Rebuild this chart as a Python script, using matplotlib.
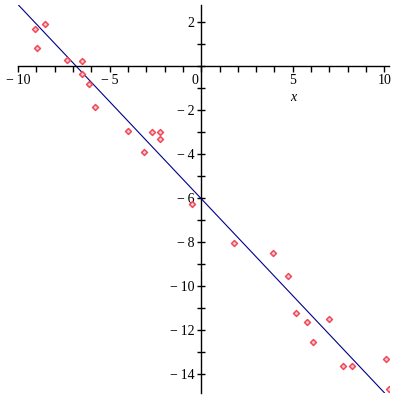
import numpy as np
import matplotlib
matplotlib.use("Agg")
import matplotlib.pyplot as plt
from matplotlib.transforms import ScaledTranslation

# data points
x_pts = [-9.05, -8.50, -8.94, -7.30, -6.49, -6.49, -6.10, -5.78, -3.98, -3.11,
         -2.67, -2.23, -2.23, -0.49, 1.80, 3.92, 4.74, 5.18, 5.78, 6.98,
         6.10, 7.74, 8.23, 10.08, 10.25]
y_pts = [1.68, 1.91, 0.82, 0.27, 0.23, -0.36, -0.82, -1.86, -2.95, -3.91,
         -3.00, -3.00, -3.32, -6.27, -8.05, -8.50, -9.55, -11.23, -11.64, -11.50,
         -12.55, -13.64, -13.64, -13.32, -14.68]

# fitted line y = intercept + slope * x
fit_coef = [-0.882, -6.03]
line_x = [-10, 10]

x_ticks = [-10, -5, 0, 5, 10]
y_ticks = [2, -2, -4, -6, -8, -10, -12, -14]


def fmt(v):
    if v < 0:
        return "\u2212\u2009" + str(abs(v))
    return str(v)


plt.rcParams["font.family"] = ["Liberation Serif", "DejaVu Serif"]

fig = plt.figure(figsize=(4, 4), dpi=100)
ax = fig.add_axes([18 / 400, 1 - 393 / 400, (389 - 18) / 400, (393 - 5) / 400])
ax.set_xlim(-10, 10.25)
ax.set_ylim(-14.86, 2.77)

lx = np.array(line_x, dtype=float)
ax.plot(lx, np.polyval(fit_coef, lx), color="#00008b", lw=0.8, zorder=2)
ax.scatter(x_pts, y_pts, marker="D", s=9, facecolor="#ffc8cf",
           edgecolor="#f04a5a", linewidths=1.1, zorder=3)

for side in ["top", "right"]:
    ax.spines[side].set_visible(False)
ax.spines["left"].set_position(("data", 0))
ax.spines["bottom"].set_position(("data", 0))
ax.spines["left"].set_linewidth(1.0)
ax.spines["bottom"].set_linewidth(1.0)

ax.set_xticks(x_ticks)
ax.set_xticklabels([fmt(v) for v in x_ticks])
ax.set_xticks(range(-10, 11), minor=True)
ax.set_yticks(y_ticks)
ax.set_yticklabels([fmt(v) for v in y_ticks])
ax.set_yticks(range(-14, 3), minor=True)

ax.tick_params(axis="x", which="both", direction="out", length=4, width=1,
               labelsize=10, pad=2)
ax.tick_params(axis="y", which="both", direction="inout", length=6, width=1,
               labelsize=10, pad=2)

# the "0" label sits just left of the y axis
for lab in ax.get_xticklabels():
    if lab.get_text() == "0":
        lab.set_transform(lab.get_transform() + ScaledTranslation(-0.06, 0, fig.dpi_scale_trans))

ax.text(5, -1.45, "x", style="italic", fontsize=10, ha="center", va="center")

fig.savefig("out.png", dpi=100)
